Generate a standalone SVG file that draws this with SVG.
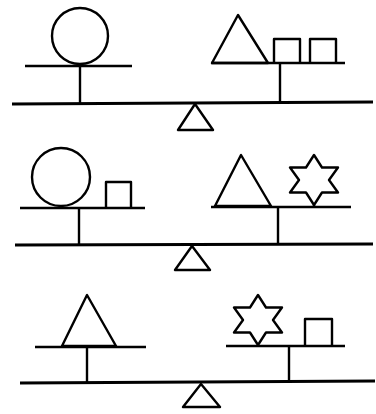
<svg xmlns="http://www.w3.org/2000/svg" width="376" height="414" viewBox="0 0 376 414">
<style>
.s{fill:none;stroke:#000;stroke-width:2.4;stroke-linejoin:round;stroke-linecap:butt}
.b{fill:none;stroke:#000;stroke-width:3}
</style>
<defs>
<polygon id="star" class="s" points="0,-25 8,-12.5 24,-12.5 15,0 24,12.5 8,12.5 0,25 -8,12.5 -24,12.5 -15,0 -24,-12.5 -8,-12.5"/>
</defs>
<rect width="376" height="414" fill="#fff"/>
<g id="scale1">
<line class="b" x1="12" y1="104" x2="373" y2="102"/>
<polygon class="s" points="195,104 178,130 213,130"/>
<line class="s" x1="25" y1="66" x2="132" y2="66"/>
<line class="s" x1="80" y1="66" x2="80" y2="104"/>
<circle class="s" cx="80" cy="36" r="28"/>
<line class="s" x1="211" y1="63" x2="345" y2="63"/>
<line class="s" x1="280" y1="63" x2="280" y2="103"/>
<polygon class="s" points="238,15 212,63 268,63"/>
<polyline class="s" points="274,63 274,39 300,39 300,63"/>
<polyline class="s" points="310,63 310,39 336,39 336,63"/>
</g>
<g id="scale2">
<line class="b" x1="15" y1="245" x2="373" y2="244"/>
<polygon class="s" points="192,246 175,270 210,270"/>
<line class="s" x1="20" y1="208" x2="145" y2="208"/>
<line class="s" x1="79" y1="208" x2="79" y2="245"/>
<circle class="s" cx="61" cy="177" r="29"/>
<polyline class="s" points="106,208 106,182 131,182 131,208"/>
<line class="s" x1="211" y1="207" x2="351" y2="207"/>
<line class="s" x1="278" y1="207" x2="278" y2="244"/>
<polygon class="s" points="241,155 215,206 271,206"/>
<use href="#star" x="314" y="180"/>
<line class="s" x1="314" y1="205" x2="314" y2="207"/>
</g>
<g id="scale3">
<line class="b" x1="20" y1="383" x2="375" y2="381"/>
<polygon class="s" points="201,384 183,407 220,407"/>
<line class="s" x1="35" y1="347" x2="146" y2="347"/>
<line class="s" x1="87" y1="347" x2="87" y2="383"/>
<polygon class="s" points="87,295 62,346 116,346"/>
<line class="s" x1="226" y1="346" x2="345" y2="346"/>
<line class="s" x1="289" y1="346" x2="289" y2="382"/>
<use href="#star" x="258" y="320"/>
<line class="s" x1="258" y1="345" x2="258" y2="346"/>
<polyline class="s" points="305,346 305,319 332,319 332,346"/>
</g>
</svg>
